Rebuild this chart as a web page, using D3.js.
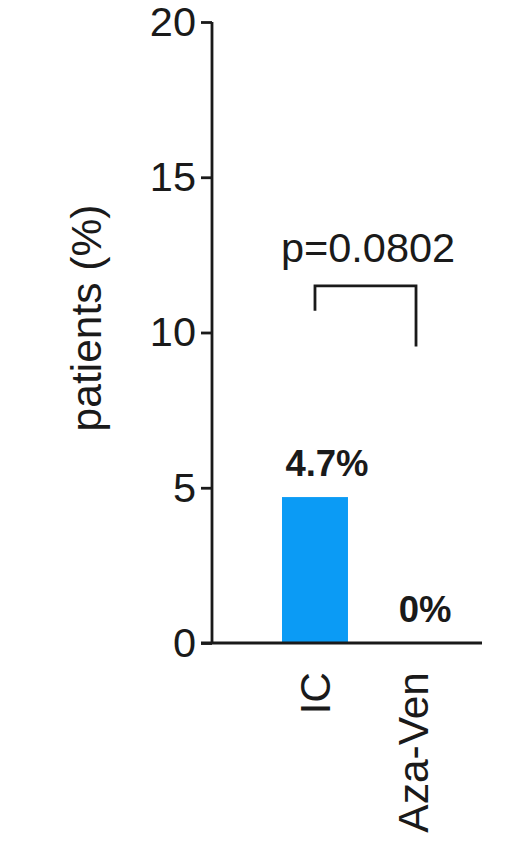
<!DOCTYPE html>
<html>
<head>
<meta charset="utf-8">
<script src="https://cdn.jsdelivr.net/npm/d3@7"></script>
<style>
  html, body { margin: 0; padding: 0; background: #fff; }
  svg { display: block; }
  text { font-family: "Liberation Sans", Arial, Helvetica, sans-serif; fill: #1a1a1a; }
</style>
</head>
<body>
<svg id="chart" width="523" height="853"></svg>
<script>
// Share of patients per treatment arm
const categories = ["IC", "Aza-Ven"];
const values = [4.7, 0];
const valueLabels = ["4.7%", "0%"];
const yTicks = [0, 5, 10, 15, 20];
const yLabel = "patients (%)";
const pLabel = "p=0.0802";
// bracket heights (in %): top bar, left leg end, right leg end
const bracketTop = 11.5;
const bracketLegs = [10.7, 9.55];

const svg = d3.select("#chart");
const ink = "#1a1a1a";

const y = d3.scaleLinear().domain([0, 20]).range([643, 22]);
const x = d3.scaleBand().domain(categories).range([282, 446]).paddingInner(0.327);
const axisX = 212;

// bars
svg.selectAll("rect.bar").data(values).enter().append("rect")
  .attr("class", "bar")
  .attr("x", (d, i) => x(categories[i]))
  .attr("width", x.bandwidth())
  .attr("y", d => y(d))
  .attr("height", d => y(0) - y(d))
  .attr("fill", "#0b9bf5");

// y axis
const yAxis = d3.axisLeft(y).tickValues(yTicks).tickSize(11).tickPadding(5);
const gy = svg.append("g").attr("transform", `translate(${axisX},0)`).call(yAxis);
gy.select(".domain").attr("d", `M0,${y(20)}V${y(0)}`).attr("stroke", ink).attr("stroke-width", 2.8);
gy.selectAll(".tick line").attr("stroke", ink).attr("stroke-width", 2.8);
gy.selectAll(".tick text").attr("font-size", 41.5).attr("fill", ink)
  .attr("font-family", "'Liberation Sans', Arial, sans-serif");

// x axis baseline
svg.append("line")
  .attr("x1", axisX - 11).attr("x2", 482)
  .attr("y1", y(0)).attr("y2", y(0))
  .attr("stroke", ink).attr("stroke-width", 2.8);

// category labels, rotated
svg.selectAll("text.cat").data(categories).enter().append("text")
  .attr("class", "cat")
  .attr("transform", d => `translate(${x(d) + x.bandwidth() / 2},672) rotate(-90)`)
  .attr("text-anchor", "end")
  .attr("dy", "0.35em")
  .attr("font-size", 42.5)
  .text(d => d);

// value labels
svg.selectAll("text.val").data(values).enter().append("text")
  .attr("class", "val")
  .attr("x", (d, i) => x(categories[i]) + x.bandwidth() / 2 + 12)
  .attr("y", d => y(d) - 21)
  .attr("text-anchor", "middle")
  .attr("font-size", 36.5)
  .attr("font-weight", "bold")
  .text((d, i) => valueLabels[i]);

// y axis title
svg.append("text")
  .attr("transform", "translate(86,318) rotate(-90)")
  .attr("text-anchor", "middle")
  .attr("dy", "0.35em")
  .attr("font-size", 42.5)
  .text(yLabel);

// significance bracket
const cx = categories.map(c => x(c) + x.bandwidth() / 2);
const bracketPath = d3.path();
bracketPath.moveTo(cx[0], y(bracketLegs[0]));
bracketPath.lineTo(cx[0], y(bracketTop));
bracketPath.lineTo(cx[1] + 3, y(bracketTop));
bracketPath.lineTo(cx[1] + 3, y(bracketLegs[1]));
svg.append("path")
  .attr("d", bracketPath.toString())
  .attr("fill", "none")
  .attr("stroke", ink)
  .attr("stroke-width", 2.8);

svg.append("text")
  .attr("x", 368)
  .attr("y", y(bracketTop) - 24)
  .attr("text-anchor", "middle")
  .attr("font-size", 41.5)
  .text(pLabel);
</script>
</body>
</html>
